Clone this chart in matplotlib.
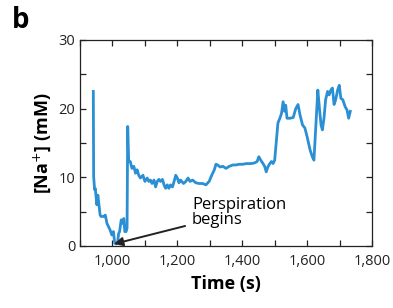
import matplotlib
matplotlib.use("Agg")
import matplotlib.pyplot as plt
from matplotlib.ticker import MultipleLocator, FuncFormatter

plt.rcParams['font.family'] = ['Open Sans', 'DejaVu Sans']

time_s = [941, 942, 945, 947, 952, 955, 959, 962, 965, 972, 978, 983, 988, 993,
          998, 1003, 1007, 1011, 1016, 1019, 1022, 1027, 1031, 1035, 1038, 1042,
          1045, 1047, 1050, 1055, 1060, 1066, 1071, 1076, 1081, 1086, 1094, 1100,
          1107, 1112, 1117, 1122, 1128, 1133, 1138, 1143, 1148, 1154, 1159, 1164,
          1169, 1174, 1179, 1185, 1190, 1195, 1200, 1205, 1210, 1219, 1226, 1233,
          1239, 1247, 1257, 1267, 1278, 1288, 1298, 1306, 1314, 1319, 1324, 1332,
          1340, 1350, 1360, 1371, 1381, 1391, 1402, 1412, 1428, 1438, 1446, 1451,
          1457, 1464, 1469, 1474, 1479, 1485, 1490, 1495, 1500, 1505, 1510, 1516,
          1521, 1526, 1531, 1534, 1538, 1547, 1557, 1565, 1572, 1578, 1586, 1593,
          1600, 1609, 1616, 1621, 1627, 1633, 1638, 1643, 1647, 1652, 1657, 1663,
          1668, 1673, 1678, 1683, 1688, 1694, 1699, 1704, 1710, 1717, 1723, 1728,
          1733]
na_mM = [22.5, 10.1, 8.2, 8.4, 6.0, 7.4, 5.7, 4.5, 4.3, 4.3, 4.5, 3.3, 2.8, 2.3,
         1.6, 2.1, 0.4, 0.3, 0.6, 1.8, 2.1, 3.8, 3.3, 4.0, 2.1, 2.1,
         2.6, 17.4, 12.3, 12.3, 11.3, 11.6, 10.6, 11.1, 10.3, 9.9, 10.3, 9.4,
         9.9, 9.4, 9.6, 9.1, 9.6, 8.6, 9.4, 9.7, 9.4, 9.7, 8.9, 8.4,
         8.9, 8.4, 8.9, 8.6, 9.4, 10.3, 9.9, 9.2, 9.6, 9.1, 9.4, 9.9,
         9.4, 9.6, 9.2, 9.1, 9.1, 8.9, 9.4, 10.3, 11.1, 11.9, 11.8, 11.5,
         11.6, 11.3, 11.6, 11.8, 11.8, 11.9, 11.9, 12.0, 12.0, 12.1, 12.3, 13.0,
         12.5, 12.0, 11.6, 10.8, 11.5, 12.0, 12.3, 12.0, 12.5, 15.2, 17.9, 18.6,
         19.3, 21.0, 19.6, 20.5, 18.6, 18.6, 18.7, 20.0, 20.6, 19.1, 17.6, 17.2,
         15.9, 14.0, 13.0, 12.5, 17.6, 22.7, 20.0, 17.6, 16.9, 18.6, 21.3, 22.5,
         22.0, 22.7, 23.0, 20.6, 21.3, 22.7, 23.4, 21.5, 21.3, 20.3, 19.8, 18.6,
         19.6]

x_ticks = [1000, 1200, 1400, 1600, 1800]
y_ticks = [0, 10, 20, 30]

fig = plt.figure(figsize=(3.93, 3.08), dpi=100)
ax = fig.add_axes([0.2036, 0.2013, 0.743, 0.669])
ax.plot(time_s, na_mM, color='#2b8fd3', lw=2.0, solid_joinstyle='round')

ax.set_xlim(900, 1800)
ax.set_ylim(0, 30)
ax.set_xticks(x_ticks)
ax.xaxis.set_minor_locator(MultipleLocator(100))
ax.set_yticks(y_ticks)
ax.yaxis.set_minor_locator(MultipleLocator(5))
ax.xaxis.set_major_formatter(FuncFormatter(lambda v, p: f"{int(v):,}"))
ax.tick_params(which='both', direction='in', top=True, right=True,
               length=4, width=0.9, labelsize=10.5, colors='#222222')
ax.tick_params(axis='x', pad=6)
for s in ax.spines.values():
    s.set_linewidth(0.9)
    s.set_color('#222222')

ax.set_xlabel('Time (s)', fontsize=13, fontweight='bold', labelpad=4)
ax.set_ylabel('[Na$^{+}$] (mM)', fontsize=13, fontweight='bold', labelpad=4)

ax.annotate('Perspiration\nbegins', xy=(1005, 0.3), xytext=(1245, 4.9),
            fontsize=12, ha='left', va='center', linespacing=0.9,
            multialignment='left',
            arrowprops=dict(arrowstyle='-|>', color='#222222', lw=1.4,
                            shrinkA=3, shrinkB=0, mutation_scale=13))

fig.text(0.03, 0.935, 'b', fontsize=20, fontweight='bold', ha='left', va='center')

fig.savefig('out.png', dpi=100)
